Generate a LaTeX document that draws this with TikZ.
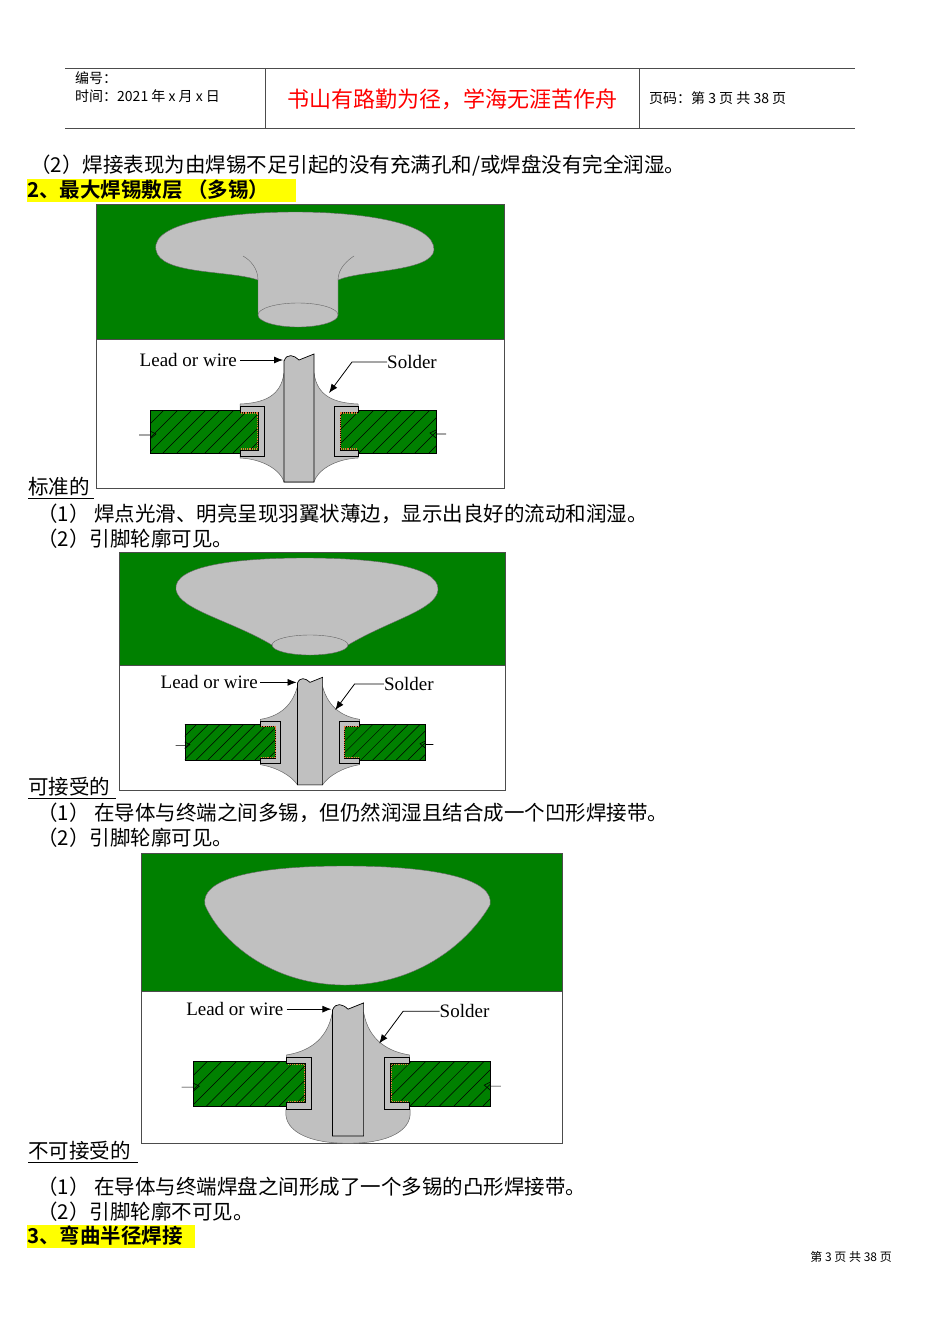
\documentclass[tikz,border=0pt]{standalone}
\usepackage{fontspec}
\setmainfont{Liberation Serif}
\newfontfamily\cjk{Noto Sans CJK SC}
\newfontfamily\cjkb{Noto Sans CJK SC Bold}
\newfontfamily\lab{Liberation Serif}
\usetikzlibrary{arrows.meta}
\definecolor{pcb}{RGB}{0,128,0}
\definecolor{sol}{RGB}{192,192,192}
\definecolor{hl}{RGB}{255,255,0}
\definecolor{cu}{RGB}{230,120,60}
\tikzset{
 body/.style={anchor=west,inner sep=0pt,font=\cjk\fontsize{20.5}{24}\selectfont},
 hd/.style={anchor=west,inner sep=0pt,font=\cjk\fontsize{14}{16}\selectfont},
 lbl/.style={inner sep=0pt,font=\lab\fontsize{19}{22}\selectfont},
 frame/.style={draw=black!70,line width=1pt},
 solder/.style={fill=sol,draw=black!60,line width=0.5pt},
 arr/.style={-{Latex[length=9pt,width=7pt]},line width=0.8pt},
}
\newcommand\board[2]{%
 \begin{scope}
  \fill[pcb,draw=black,line width=0.6pt] (#1,-21) rectangle (#2,22);
  \clip (#1,-21) rectangle (#2,22);
  \foreach \i in {-220,-206,...,200} \draw[line width=0.5pt] (\i,22) -- ++(43,-43);
 \end{scope}}
\newcommand\xsec[5]{%
 \begin{scope}[shift={(#1,#2)},scale=#3]
  #4
  \board{-149}{-40}\board{40}{137}
  \draw[line width=0.6pt] (-160,4) -- (-149,4) (-149,0)--(-143,3)--(-149,8);
  \draw[line width=0.6pt] (147,3) -- (137,3) (137,-1)--(131,2)--(137,7);
  \foreach \s in {-1,1}{
   \begin{scope}[xscale=\s]
    \fill[sol,draw=black,line width=0.6pt] (-59,-25) -- (-35,-25) -- (-35,25) -- (-59,25) -- (-59,19) -- (-41,19) -- (-41,-19) -- (-59,-19) -- cycle;
    \draw[cu,line width=1.2pt,densely dotted] (-58,-18) -- (-41.5,-18) -- (-41.5,18) -- (-58,18);
   \end{scope}}
  \fill[sol,draw=black,line width=0.7pt] (-15,51) -- (-15,-70) .. controls (-12,-78) and (-5,-76) .. (0,-71) .. controls (5,-73) and (10,-75) .. (15,-77) -- (15,51) -- cycle;
  \node[lbl,anchor=east] (lw#5) at (-62,-71) {Lead or wire};
  \coordinate (lt#5) at (-16,-71);
  \draw[arr] (lw#5.east) ++(3,0) -- (lt#5);
  \node[lbl,anchor=west] (sd#5) at (88,-69) {Solder};
  \coordinate (st#5) at (30,-38);
  \draw[arr] (sd#5.west) -- ++(-35,0) -- (st#5);
 \end{scope}}
\begin{document}
\begin{tikzpicture}[x=1pt,y=-1pt]
\useasboundingbox (0,0) rectangle (950,1344);
\fill[white] (0,0) rectangle (950,1344);
% header
\draw[black!70,line width=0.8pt] (65,68) -- (855,68) (65,128) -- (855,128) (265,68) -- (265,128) (639,68) -- (639,128);
\node[hd] (h1) at (75,78) {编号：};
\node[hd] (h2) at (75,96) {时间：2021 年 x 月 x 日};
\node[anchor=center,inner sep=0pt,text=red,font=\cjk\fontsize{22}{24}\selectfont] (h3) at (452,99) {书山有路勤为径，学海无涯苦作舟};
\node[hd] (h4) at (649,98) {页码：第 3 页 共 38 页};
% texts
\node[body] (t1) at (30,166) {（2）焊接表现为由焊锡不足引起的没有充满孔和/或焊盘没有完全润湿。};
\fill[hl] (27,179) rectangle (296,202);
\node[body,font=\cjkb\fontsize{20.5}{24}\selectfont] (t2) at (27,190) {2、最大焊锡敷层 （多锡）};
% diagram 1
\fill[pcb] (96,204) rectangle (504,339);
\draw[frame] (96,204) rectangle (504,488) (96,339) -- (504,339);
\fill[sol,draw=black!60] (258,280) .. controls (230,270) and (160,275) .. (156,250) .. controls (150,220) and (240,212) .. (295,212) .. controls (360,212) and (435,222) .. (434,250) .. controls (432,272) and (360,270) .. (338,280) -- (338,315) -- (258,315) -- cycle;
\draw[black!60] (258,280) .. controls (258,268) and (250,260) .. (243,256) (338,280) .. controls (338,268) and (348,260) .. (354,256);
\fill[sol,draw=black!60] (298,315) ellipse (40 and 12);
\xsec{299}{431}{1}{%
 \fill[solder] (-15,-58) .. controls (-18,-35) and (-35,-28) .. (-59,-27) -- (-59,27) .. controls (-35,28) and (-18,40) .. (-15,51) -- (15,51) .. controls (18,40) and (35,28) .. (59,27) -- (59,-27) .. controls (35,-28) and (18,-35) .. (15,-58) -- cycle;}{a}
\node[body] (t3) at (28,487) {标准的};
\draw (28,498) -- (94,498);
\node[body] (t4) at (37,514) {（1）  焊点光滑、明亮呈现羽翼状薄边，显示出良好的流动和润湿。};
\node[body] (t5) at (37,539) {（2）引脚轮廓可见。};
% diagram 2
\fill[pcb] (119,552) rectangle (505,665);
\draw[frame] (119,552) rectangle (505,790) (119,665) -- (505,665);
\fill[sol,draw=black!60] (272,645) .. controls (230,620) and (180,610) .. (176,590) .. controls (172,565) and (240,558) .. (305,558) .. controls (370,558) and (440,565) .. (438,590) .. controls (436,610) and (390,620) .. (348,645) -- cycle;
\fill[sol,draw=black!60] (310,645) ellipse (38 and 10);
\xsec{310}{742}{0.84}{%
 \fill[solder] (-15,-66) .. controls (-22,-40) and (-40,-30) .. (-59,-27) -- (-59,27) .. controls (-40,30) and (-22,40) .. (-15,51) -- (15,51) .. controls (22,40) and (40,30) .. (59,27) -- (59,-27) .. controls (40,-30) and (22,-40) .. (15,-66) -- cycle;}{b}
\node[body] (t6) at (28,787) {可接受的};
\draw (28,798) -- (116,798);
\node[body] (t7) at (37,813) {（1）  在导体与终端之间多锡，但仍然润湿且结合成一个凹形焊接带。};
\node[body] (t8) at (37,838) {（2）引脚轮廓可见。};
% diagram 3
\fill[pcb] (141,853) rectangle (562,991);
\draw[frame] (141,853) rectangle (562,1143) (141,991) -- (562,991);
\fill[sol,draw=black!60] (205,905) .. controls (200,880) and (250,866) .. (345,866) .. controls (440,866) and (495,880) .. (490,905) .. controls (470,940) and (420,985) .. (345,985) .. controls (270,985) and (220,940) .. (205,905) -- cycle;
\xsec{348}{1083}{1.04}{%
 \fill[solder] (-15,-68) .. controls (-20,-40) and (-40,-30) .. (-59,-27) -- (-59,22) .. controls (-65,45) and (-40,58) .. (0,58) .. controls (40,58) and (65,45) .. (59,22) -- (59,-27) .. controls (40,-30) and (20,-40) .. (15,-68) -- cycle;}{c}
\node[body] (t9) at (28,1151) {不可接受的};
\draw (28,1162) -- (138,1162);
\node[body] (t10) at (37,1187) {（1）  在导体与终端焊盘之间形成了一个多锡的凸形焊接带。};
\node[body] (t11) at (37,1212) {（2）引脚轮廓不可见。};
\fill[hl] (27,1225) rectangle (195,1248);
\node[body,font=\cjkb\fontsize{20.5}{24}\selectfont] (t12) at (27,1236) {3、弯曲半径焊接};
\node[anchor=east,inner sep=0pt,font=\cjk\fontsize{12}{14}\selectfont] (ft) at (892,1257) {第 3 页 共 38 页};
\end{tikzpicture}
\end{document}
